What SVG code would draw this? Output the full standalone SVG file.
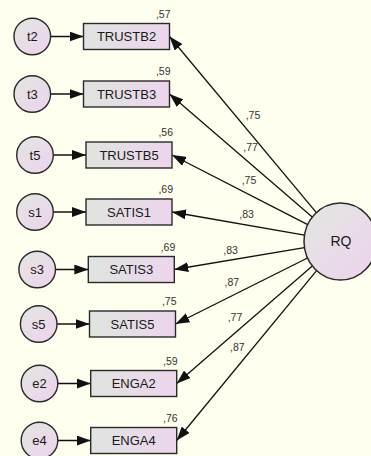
<svg xmlns="http://www.w3.org/2000/svg" width="371" height="456" viewBox="0 0 371 456">
<defs>
<style>
.bg{fill:#fffff0}
.box{fill:url(#gbox);stroke:#2a2a2a;stroke-width:1.4}
.err{fill:url(#gcirc);stroke:#2a2a2a;stroke-width:1.4}
.lat{fill:url(#gcirc);stroke:#2a2a2a;stroke-width:1.5}
.lbl{font-family:"Liberation Sans",Arial,sans-serif;font-size:13px;fill:#1a1a1a;text-anchor:middle;dominant-baseline:central}
.big{font-size:14px}
.num{font-family:"Liberation Sans",Arial,sans-serif;font-size:10.5px;fill:#333}
.r{text-anchor:end}
.edge{stroke:#111;stroke-width:1.3;fill:none;marker-end:url(#ah)}
</style>
<linearGradient id="gbox" x1="0" y1="0" x2="1" y2="0">
<stop offset="0" stop-color="#dfe4df"/>
<stop offset="1" stop-color="#edd5ed"/>
</linearGradient>
<linearGradient id="gcirc" x1="0" y1="0" x2="1" y2="1">
<stop offset="0" stop-color="#e3e6e1"/>
<stop offset="1" stop-color="#edd3ed"/>
</linearGradient>
<marker id="ah" markerUnits="userSpaceOnUse" markerWidth="15" markerHeight="10" refX="14" refY="5" orient="auto">
<path d="M0,0 L14,5 L0,10 z" fill="#111"/>
</marker>
</defs>
<rect class="bg" x="0" y="0" width="371" height="456"/>

<g id="connectors">
<line class="edge" x1="50.6" y1="36.5" x2="83.5" y2="36.5"/>
<line class="edge" x1="50.6" y1="94" x2="83.5" y2="94"/>
<line class="edge" x1="53.3" y1="155" x2="86" y2="155"/>
<line class="edge" x1="53.3" y1="212" x2="86" y2="212"/>
<line class="edge" x1="55.5" y1="269.5" x2="88.3" y2="269.5"/>
<line class="edge" x1="57" y1="324" x2="89.5" y2="324"/>
<line class="edge" x1="57.8" y1="383.5" x2="90.7" y2="383.5"/>
<line class="edge" x1="57.8" y1="440.5" x2="90.7" y2="440.5"/>
<line class="edge" x1="316.4" y1="212.6" x2="169.5" y2="36.5"/>
<line class="edge" x1="312.25" y1="217.1" x2="169.5" y2="94"/>
<line class="edge" x1="307.7" y1="224.65" x2="172" y2="155"/>
<line class="edge" x1="304.5" y1="235.2" x2="172" y2="212"/>
<line class="edge" x1="304.45" y1="247.6" x2="174.3" y2="269.5"/>
<line class="edge" x1="307.5" y1="258" x2="175.5" y2="324"/>
<line class="edge" x1="312.3" y1="265.95" x2="176.7" y2="383.5"/>
<line class="edge" x1="316.6" y1="270.6" x2="176.7" y2="440.5"/>
<text class="num" x="245.7" y="119">,75</text>
<text class="num" x="243.3" y="150.5">,77</text>
<text class="num" x="241.7" y="184">,75</text>
<text class="num" x="239.3" y="218">,83</text>
<text class="num" x="223.3" y="254">,83</text>
<text class="num" x="224.5" y="285.5">,87</text>
<text class="num" x="227.7" y="320.5">,77</text>
<text class="num" x="230" y="351">,87</text>
</g>

<g id="RQ">
<ellipse class="lat" cx="340.5" cy="241.5" rx="36.5" ry="38.5"/>
<text class="lbl big" x="341" y="241">RQ</text>
</g>

<g id="t2"><circle class="err" cx="32.3" cy="36.5" r="18.3"/><text class="lbl" x="32.3" y="36.5">t2</text></g>
<g id="t3"><circle class="err" cx="32.3" cy="94" r="18.3"/><text class="lbl" x="32.3" y="94">t3</text></g>
<g id="t5"><circle class="err" cx="35" cy="155" r="18.3"/><text class="lbl" x="35" y="155">t5</text></g>
<g id="s1"><circle class="err" cx="35" cy="212" r="18.3"/><text class="lbl" x="35" y="212">s1</text></g>
<g id="s3"><circle class="err" cx="37.2" cy="269.5" r="18.3"/><text class="lbl" x="37.2" y="269.5">s3</text></g>
<g id="s5"><circle class="err" cx="38.7" cy="324" r="18.3"/><text class="lbl" x="38.7" y="324">s5</text></g>
<g id="e2"><circle class="err" cx="39.5" cy="383.5" r="18.3"/><text class="lbl" x="39.5" y="383.5">e2</text></g>
<g id="e4"><circle class="err" cx="39.5" cy="440.5" r="18.3"/><text class="lbl" x="39.5" y="440.5">e4</text></g>

<g id="TRUSTB2"><rect class="box" x="83.5" y="23.5" width="86" height="26"/><text class="lbl" x="126.5" y="36.5">TRUSTB2</text><text class="num r" x="170.5" y="17.5">,57</text></g>
<g id="TRUSTB3"><rect class="box" x="83.5" y="81" width="86" height="26"/><text class="lbl" x="126.5" y="94">TRUSTB3</text><text class="num r" x="170.5" y="75">,59</text></g>
<g id="TRUSTB5"><rect class="box" x="86" y="142" width="86" height="26"/><text class="lbl" x="129" y="155">TRUSTB5</text><text class="num r" x="173" y="136">,56</text></g>
<g id="SATIS1"><rect class="box" x="86" y="199" width="86" height="26"/><text class="lbl" x="129" y="212">SATIS1</text><text class="num r" x="173" y="193">,69</text></g>
<g id="SATIS3"><rect class="box" x="88.3" y="256.5" width="86" height="26"/><text class="lbl" x="131.3" y="269.5">SATIS3</text><text class="num r" x="175.3" y="250.5">,69</text></g>
<g id="SATIS5"><rect class="box" x="89.5" y="311" width="86" height="26"/><text class="lbl" x="132.5" y="324">SATIS5</text><text class="num r" x="176.5" y="305">,75</text></g>
<g id="ENGA2"><rect class="box" x="90.7" y="370.5" width="86" height="26"/><text class="lbl" x="133.7" y="383.5">ENGA2</text><text class="num r" x="177.7" y="364.5">,59</text></g>
<g id="ENGA4"><rect class="box" x="90.7" y="427.5" width="86" height="26"/><text class="lbl" x="133.7" y="440.5">ENGA4</text><text class="num r" x="177.7" y="421.5">,76</text></g>
</svg>
